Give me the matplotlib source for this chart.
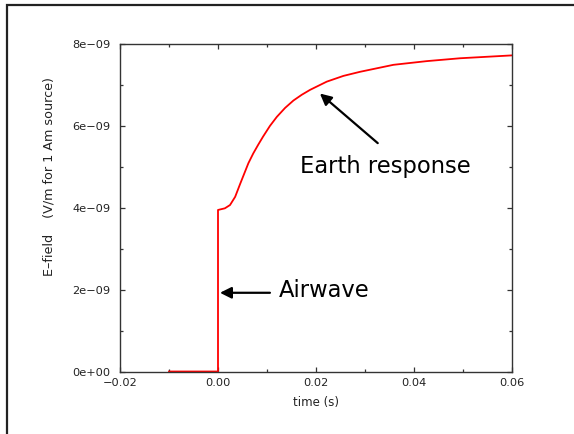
import matplotlib.pyplot as plt
from matplotlib.patches import Rectangle
from matplotlib.ticker import MultipleLocator, FuncFormatter

# values
time_s = [-0.01, 0.0, 0.0, 0.0014, 0.00245, 0.0035, 0.0045, 0.0052, 0.0062,
          0.0072, 0.0082, 0.0092, 0.0106, 0.0120, 0.0137, 0.0154, 0.0171,
          0.0188, 0.0222, 0.0256, 0.0290, 0.0358, 0.0426, 0.0494, 0.0600]
efield = [0.0, 0.0, 3.94e-9, 3.98e-9, 4.06e-9, 4.26e-9, 4.57e-9, 4.78e-9,
          5.08e-9, 5.32e-9, 5.53e-9, 5.73e-9, 5.99e-9, 6.21e-9, 6.43e-9,
          6.61e-9, 6.75e-9, 6.87e-9, 7.07e-9, 7.21e-9, 7.31e-9, 7.48e-9,
          7.57e-9, 7.64e-9, 7.71e-9]

x_ticks = [-0.02, 0.0, 0.02, 0.04, 0.06]
y_ticks = [0.0, 2e-9, 4e-9, 6e-9, 8e-9]


def sci_label(v, pos):
    s = f'{v:.0e}'
    return s.replace('-', '\u2212')


def main():
    fig = plt.figure(figsize=(5.74, 4.34), dpi=100)
    ax = fig.add_axes([120 / 574, 1 - 371.5 / 434, 392 / 574, 328 / 434])

    ax.plot(time_s, efield, color='red', lw=1.3, solid_joinstyle='round')

    ax.set_xlim(-0.02, 0.06)
    ax.set_ylim(0, 8e-9)
    ax.set_xticks(x_ticks)
    ax.set_yticks(y_ticks)
    ax.xaxis.set_minor_locator(MultipleLocator(0.01))
    ax.yaxis.set_minor_locator(MultipleLocator(1e-9))
    ax.xaxis.set_major_formatter(FuncFormatter(lambda v, p: f'{v:.2f}'.replace('-', '\u2212')))
    ax.yaxis.set_major_formatter(FuncFormatter(sci_label))

    ax.tick_params(which='both', direction='in', top=True, right=True,
                   color='#333333', labelcolor='#222222', labelsize=8.2)
    ax.tick_params(which='major', length=3.8, width=0.9)
    ax.tick_params(which='minor', length=2.4, width=0.9)
    ax.tick_params(axis='y', pad=7)
    ax.tick_params(axis='x', pad=4.5)
    for sp in ax.spines.values():
        sp.set_color('#333333')
        sp.set_linewidth(1.0)

    ax.set_xlabel('time (s)', fontsize=8.5, color='#222222')
    ax.xaxis.set_label_coords(0.5, -0.075)
    ax.set_ylabel('E\u2013field    (V/m for 1 Am source)', fontsize=9.2, color='#222222')
    ax.yaxis.set_label_coords(-0.165, 0.593)

    arrow = dict(arrowstyle='-|>', color='black', lw=1.6, mutation_scale=17,
                 shrinkA=0, shrinkB=0)
    ax.annotate('', xy=(0.0004, 1.92e-9), xytext=(0.0106, 1.92e-9),
                arrowprops=arrow)
    ax.text(0.0124, 1.98e-9, 'Airwave', fontsize=16.3, va='center', ha='left')
    ax.annotate('', xy=(0.0208, 6.78e-9), xytext=(0.0326, 5.57e-9),
                arrowprops=arrow)
    ax.text(0.0167, 5.0e-9, 'Earth response', fontsize=16.3, va='center', ha='left')

    # outer frame, open on the right and bottom like the reference
    fig.patches.append(Rectangle((7 / 574, -0.1), 1.2, 1 - 5 / 434 + 0.1,
                                 transform=fig.transFigure, fill=False,
                                 edgecolor='#222222', lw=1.6))

    fig.savefig('out.png', dpi=100)
    plt.close(fig)


if __name__ == '__main__':
    main()
